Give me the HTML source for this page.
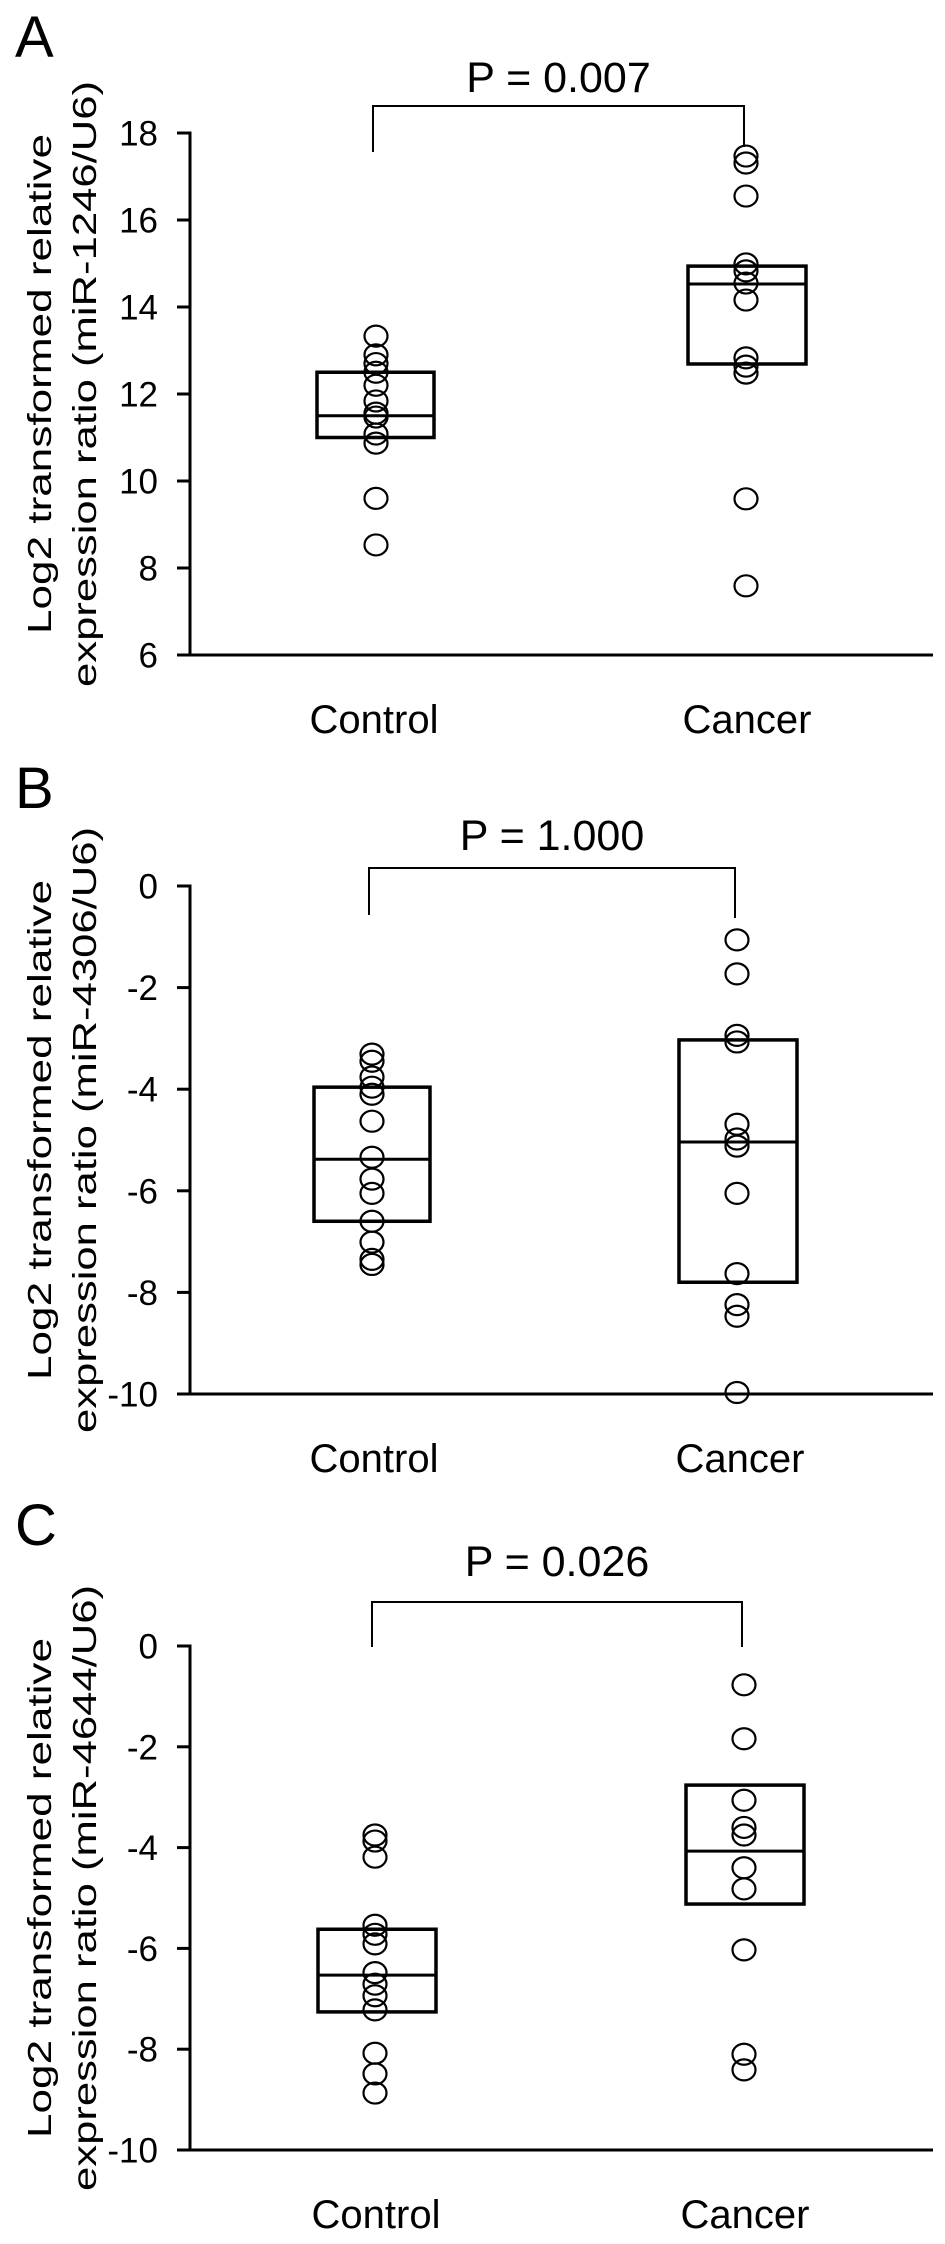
<!DOCTYPE html>
<html><head><meta charset="utf-8">
<style>
html,body{margin:0;padding:0;background:#fff;}
svg{display:block;}
text{font-family:"Liberation Sans",Arial,sans-serif;fill:#000;}
</style></head>
<body>
<svg id="fig" width="945" height="2244" viewBox="0 0 945 2244" xmlns="http://www.w3.org/2000/svg"></svg>
<script>
// ---- Data ----
const categories = ["Control", "Cancer"];
const panelLetters = ["A", "B", "C"];
const pLabels = ["P = 0.007", "P = 1.000", "P = 0.026"];
const yTitles2 = ["expression ratio (miR-1246/U6)", "expression ratio (miR-4306/U6)", "expression ratio (miR-4644/U6)"];
const tickValsA = [6, 8, 10, 12, 14, 16, 18];
const tickValsB = [-10, -8, -6, -4, -2, 0];
const tickValsC = [-10, -8, -6, -4, -2, 0];
const controlA = [13.33, 12.9, 12.7, 12.5, 12.2, 11.84, 11.56, 11.47, 11.08, 10.87, 9.6, 8.53];
const cancerA = [17.47, 17.31, 16.55, 14.99, 14.83, 14.55, 14.16, 12.83, 12.64, 12.48, 9.59, 7.59];
const controlB = [-3.31, -3.45, -3.76, -3.96, -4.1, -4.63, -5.34, -5.77, -6.05, -6.6, -7.01, -7.35, -7.45];
const cancerB = [-1.06, -1.73, -2.94, -3.07, -4.69, -4.98, -5.12, -6.05, -7.63, -8.24, -8.47, -9.97];
const controlC = [-3.75, -3.87, -4.19, -5.54, -5.72, -5.91, -6.48, -6.71, -6.94, -7.22, -8.08, -8.49, -8.87];
const cancerC = [-0.77, -1.84, -3.06, -3.6, -3.75, -4.4, -4.82, -6.03, -8.1, -8.41];
// box stats: [q3, median, q1]
const boxControlA = [12.5, 11.5, 11.0];
const boxCancerA = [14.94, 14.53, 12.69];
const boxControlB = [-3.96, -5.38, -6.6];
const boxCancerB = [-3.03, -5.04, -7.8];
const boxControlC = [-5.62, -6.53, -7.26];
const boxCancerC = [-2.76, -4.07, -5.12];

const NS = "http://www.w3.org/2000/svg";
const svg = document.getElementById("fig");
function mk(tag, attrs, parent) {
  const e = document.createElementNS(NS, tag);
  for (const k in attrs) e.setAttribute(k, attrs[k]);
  (parent || svg).appendChild(e);
  return e;
}

const panels = [
  {ticks: tickValsA, ctrl: controlA, canc: cancerA, bCtrl: boxControlA, bCanc: boxCancerA,
   yTop: 133, yBot: 655, letterY: 57, pY: 92, brTop: 106, brL: 152, brR: 147, labY: 733, cx: [376, 746], lab: [374, 747], bx: [[317,434],[688,806]]},
  {ticks: tickValsB, ctrl: controlB, canc: cancerB, bCtrl: boxControlB, bCanc: boxCancerB,
   yTop: 886, yBot: 1394, letterY: 808, pY: 850, brTop: 868, brL: 915, brR: 918, labY: 1472, cx: [372, 737], lab: [374, 740], bx: [[314,430],[679,797]]},
  {ticks: tickValsC, ctrl: controlC, canc: cancerC, bCtrl: boxControlC, bCanc: boxCancerC,
   yTop: 1646, yBot: 2150, letterY: 1545, pY: 1576, brTop: 1602, brL: 1647, brR: 1647, labY: 2228, cx: [375, 744], lab: [376, 745], bx: [[318,436],[686,804]]}
];
const AX = 190;

panels.forEach((p, i) => {
  const tmin = p.ticks[0], tmax = p.ticks[p.ticks.length - 1];
  const y = v => p.yTop + (tmax - v) * (p.yBot - p.yTop) / (tmax - tmin);
  const g = mk("g", {});
  
  

  const L = mk("text", {x: 15, y: p.letterY, "font-size": 58}, g);
  L.textContent = panelLetters[i];
  
  

  // y axis title
  const cy = (p.yTop + p.yBot) / 2 - 10;
  const t1 = mk("text", {x: 0, y: 0, "font-size": 33, "text-anchor": "middle", textLength: 500, lengthAdjust: "spacingAndGlyphs",
    transform: `translate(51,${cy}) rotate(-90)`}, g);
  t1.textContent = "Log2 transformed relative";
  
  
  const t2 = mk("text", {x: 0, y: 0, "font-size": 33, "text-anchor": "middle", textLength: 606, lengthAdjust: "spacingAndGlyphs",
    transform: `translate(96,${cy}) rotate(-90)`}, g);
  t2.textContent = yTitles2[i];
  
  

  // axes
  const ya = mk("line", {x1: AX, y1: p.yTop - 1.5, x2: AX, y2: p.yBot + 1.5, stroke: "#000", "stroke-width": 3}, g);
  
  
  const xa = mk("line", {x1: AX, y1: p.yBot, x2: 933, y2: p.yBot, stroke: "#000", "stroke-width": 3}, g);
  
  

  p.ticks.forEach(t => {
    const tk = mk("line", {x1: 177, y1: y(t), x2: AX, y2: y(t), stroke: "#000", "stroke-width": 3}, g);
    
    
    const tl = mk("text", {x: 158, y: y(t) + 12.5, "font-size": 35, "text-anchor": "end"}, g);
    tl.textContent = String(t);
    
    
  });

  // boxes
  [p.bCtrl, p.bCanc].forEach((b, k) => {
    const [x1, x2] = p.bx[k];
    const r = mk("rect", {x: x1, y: y(b[0]), width: x2 - x1, height: y(b[2]) - y(b[0]), fill: "none", stroke: "#000", "stroke-width": 3.5}, g);
    
    
    const m = mk("line", {x1: x1, y1: y(b[1]), x2: x2, y2: y(b[1]), stroke: "#000", "stroke-width": 3}, g);
    
    
  });

  // points
  [p.ctrl, p.canc].forEach((arr, k) => {
    arr.forEach(v => {
      const c = mk("ellipse", {cx: p.cx[k], cy: y(v), rx: 11.5, ry: 10.5, fill: "none", stroke: "#000", "stroke-width": 2.2}, g);
      
      
    });
  });

  // category labels
  categories.forEach((c, k) => {
    const cl = mk("text", {x: p.lab[k], y: p.labY, "font-size": 40, "text-anchor": "middle"}, g);
    cl.textContent = c;
    
    
  });

  // bracket
  const bl = p.cx[0] - 3, br = p.cx[1] - 2;
  const brk = mk("path", {d: `M${bl},${p.brL} V${p.brTop} H${br} V${p.brR}`, fill: "none", stroke: "#000", "stroke-width": 2}, g);
  
  
  const pt = mk("text", {x: (bl + br) / 2, y: p.pY, "font-size": 43, "text-anchor": "middle"}, g);
  pt.textContent = pLabels[i];
  
  
});
</script>
</body></html>
